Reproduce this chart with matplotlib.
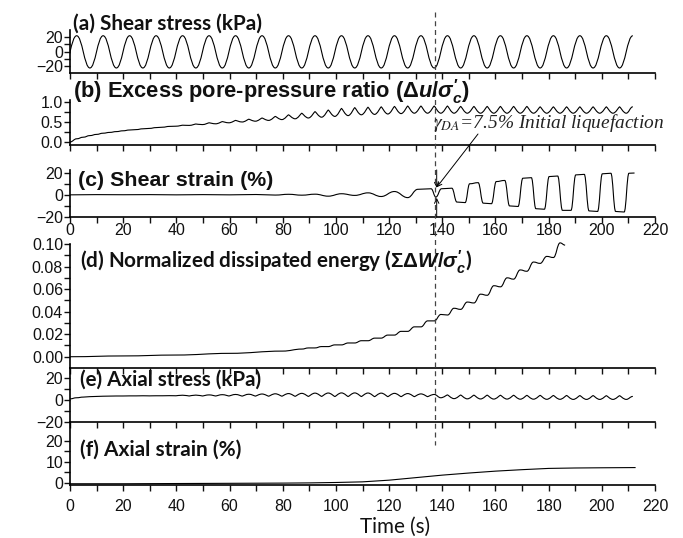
import numpy as np
import matplotlib
matplotlib.use("Agg")
import matplotlib.pyplot as plt
from matplotlib.path import Path
from matplotlib.patches import PathPatch
from matplotlib.lines import Line2D
from matplotlib.ticker import FuncFormatter
from matplotlib import transforms

plt.rcParams['font.family'] = ['Liberation Sans', 'DejaVu Sans']
plt.rcParams['mathtext.fontset'] = 'custom'
plt.rcParams['mathtext.rm'] = 'Liberation Sans:bold'
plt.rcParams['mathtext.it'] = 'Liberation Sans:bold:italic'
plt.rcParams['mathtext.bf'] = 'Liberation Sans:bold'

# ---- data ----
# loading: first shear stress peak and quarter of the 10 s cycle
first_peak = 2.5
quarter = 2.49
t_grid = first_peak + quarter * np.arange(85)   # peaks/troughs of the half-cycle signals

# (a) shear stress extrema (kPa), first value is the trough before t=0
shear_stress = [-23, 22, -23, 22, -23, 22, -23, 22, -23, 22, -23,
                22, -23, 22, -23, 22, -23, 22, -23, 22, -23,
                22, -23, 22, -23, 22, -23, 22, -23, 22, -23,
                22, -23, 22, -23, 22, -23, 22, -23, 22, -23,
                22, -23, 22]

# (b) excess pore-pressure ratio, at t=0 then on t_grid
pore_ratio = [0.00,
              0.08, 0.12, 0.16, 0.19, 0.22, 0.24, 0.26, 0.28, 0.30, 0.31,
              0.33, 0.34, 0.36, 0.37, 0.39, 0.395, 0.42, 0.415, 0.45, 0.435,
              0.48, 0.455, 0.51, 0.48, 0.54, 0.50, 0.57, 0.52, 0.60, 0.54,
              0.64, 0.56, 0.68, 0.58, 0.72, 0.60, 0.76, 0.62, 0.80, 0.64,
              0.84, 0.66, 0.86, 0.68, 0.87, 0.69, 0.88, 0.70, 0.89, 0.71,
              0.90, 0.72, 0.90, 0.72, 0.90, 0.72, 0.90, 0.72, 0.89, 0.72,
              0.89, 0.72, 0.89, 0.72, 0.89, 0.72, 0.89, 0.72, 0.89, 0.72,
              0.88, 0.72, 0.88, 0.72, 0.88, 0.72, 0.88, 0.72, 0.88, 0.72,
              0.88, 0.72, 0.88, 0.72, 0.88]

# (c) shear strain (%)
strain_t = [0, 10, 20, 30, 40, 50, 60, 70, 77.2, 82.2, 87.2, 92.2, 97.1,
            102.1, 107.1, 112.1, 117.0, 122.0, 127.0, 130.8, 135.8, 137.6,
            139.7, 143.6, 145.5, 148.6, 150.3, 153.5, 155.4, 158.5, 160.3,
            163.5, 165.3, 168.5, 170.3, 173.5, 175.2, 178.4, 180.2, 183.4,
            185.2, 188.4, 190.2, 193.4, 195.2, 198.4, 200.2, 203.4, 205.2,
            208.4, 210.2, 212.3]
strain_v = [0.0, 0.2, 0.1, 0.2, 0.0, 0.2, 0.0, 0.3, -0.2, 0.5, -0.3, 0.6, -1.2,
            1.0, -0.5, 1.8, -1.5, 3.0, -2.5, 5.0, 5.5, -2.0,
            5.5, 6.0, -6.5, -7.0, 10.0, 11.0, -7.5, -8.0, 12.0,
            13.0, -10.0, -10.5, 15.0, 15.5, -12.5, -13.0, 16.5, 17.0,
            -14.0, -14.0, 18.0, 18.5, -14.5, -15.0, 19.0, 19.5, -15.0,
            -15.5, 19.5, 19.7]

# (d) normalized dissipated energy
energy_t = [0, 20, 40, 60, 80, 87.2, 89.7, 92.1, 94.6, 97.1, 99.6, 102.1,
            104.6, 107.1, 109.6, 112.1, 114.6, 117.0, 119.5, 122.0, 124.5,
            127.0, 129.5, 132.0, 134.5, 137.0, 139.5, 142.0, 144.4, 146.9,
            149.4, 151.9, 154.4, 156.9, 159.4, 161.9, 164.4, 166.8, 169.3,
            171.8, 174.3, 176.8, 179.3, 181.8, 184.3, 186.2]
energy_v = [0.0, 0.0007, 0.0015, 0.003, 0.005, 0.0068, 0.0078, 0.0078, 0.0090,
            0.0090, 0.0105, 0.0105, 0.0122, 0.0122, 0.0142, 0.0142, 0.0165,
            0.0165, 0.0192, 0.0192, 0.0225, 0.0225, 0.0265, 0.0265, 0.0318,
            0.0318, 0.0375, 0.0370, 0.0430, 0.0420, 0.0485, 0.0477, 0.0555,
            0.0545, 0.0630, 0.0620, 0.0700, 0.0688, 0.0770, 0.0758, 0.0840,
            0.0828, 0.0890, 0.0880, 0.1010, 0.0990]

# (e) axial stress (kPa), at t=0 then on t_grid
axial_stress = [1.0,
                2.0, 2.6, 3.0, 3.2, 3.4, 3.5, 3.6, 3.6, 3.7, 3.7,
                3.8, 3.7, 3.8, 3.8, 3.9, 3.8, 4.3, 3.6, 4.4, 3.6,
                4.6, 3.6, 4.8, 3.6, 5.0, 3.5, 5.2, 3.5, 5.4, 3.4,
                5.6, 3.4, 5.8, 3.3, 6.0, 3.2, 6.2, 3.2, 6.3, 3.1,
                6.4, 3.1, 6.4, 3.1, 6.3, 3.0, 6.2, 3.0, 6.0, 3.0,
                5.8, 3.0, 5.5, 3.0, 5.0, 2.0, 4.6, 1.2, 4.5, 1.0,
                4.4, 0.9, 4.4, 0.8, 4.3, 0.8, 4.3, 0.7, 4.2, 0.7,
                4.2, 0.6, 4.1, 0.6, 4.1, 0.5, 4.0, 0.5, 4.0, 0.5,
                3.9, 0.5, 3.9, 0.5, 3.2]

# (f) axial strain (%)
axial_t = [0, 20, 40, 60, 80, 90, 100, 110, 120, 130, 140, 150, 160, 170,
           180, 190, 200, 212.5]
axial_v = [-0.4, -0.4, -0.3, -0.2, -0.1, 0.0, 0.2, 0.5, 1.3, 2.5, 3.7, 4.7,
           5.6, 6.3, 6.9, 7.1, 7.2, 7.3]

liquefaction_t = 137.2
liq_arrow_t = 137.9
liq_strain_top = 6.3
liq_strain_bot = -2.7

# ---- figure ----
W, H = 683, 538
fig = plt.figure(figsize=(W / 100, H / 100), dpi=100)


def rect(top, bottom):
    return [70 / W, 1 - bottom / H, 585 / W, (bottom - top) / H]


def smooth_line(ax, t, v, lw=0.8, clip=True, cusp_top_after=None):
    # cubic segments with flat tangents at every knot (peaks / troughs);
    # short handles give pointed peaks (after cusp_top_after) or pointed troughs (before)
    t = np.asarray(t, float)
    v = np.asarray(v, float)
    hf = np.full(len(t), 0.42)
    if cusp_top_after is not None:
        for i in range(1, len(t) - 1):
            is_max = v[i] > v[i - 1] and v[i] > v[i + 1]
            is_min = v[i] < v[i - 1] and v[i] < v[i + 1]
            if (is_max and t[i] >= cusp_top_after) or (is_min and t[i] < cusp_top_after):
                hf[i] = 0.1
    verts = [(t[0], v[0])]
    codes = [Path.MOVETO]
    for i in range(1, len(t)):
        dt = t[i] - t[i - 1]
        verts += [(t[i - 1] + hf[i - 1] * dt, v[i - 1]),
                  (t[i] - hf[i] * dt, v[i]), (t[i], v[i])]
        codes += [Path.CURVE4] * 3
    patch = PathPatch(Path(verts, codes), fill=False, lw=lw, ec='black',
                      joinstyle='round')
    ax.add_patch(patch)
    patch.set_clip_on(clip)


def minus_fmt(fmt):
    return FuncFormatter(lambda v, pos: (fmt % v).replace('-', '\u2212'))


def setup(ax, ylim, ticks, minor, fmt, bounds=None, labels=False, pad=1):
    ax.set_xlim(0, 220)
    ax.set_ylim(*ylim)
    ax.set_xticks(np.arange(0, 221, 20))
    ax.set_xticks(np.arange(10, 220, 20), minor=True)
    ax.set_yticks(ticks)
    ax.set_yticks(minor, minor=True)
    ax.yaxis.set_major_formatter(minus_fmt(fmt))
    ax.patch.set_alpha(0)
    for s in ['top', 'right']:
        ax.spines[s].set_visible(False)
    for s in ['left', 'bottom']:
        ax.spines[s].set_linewidth(1.2)
    if bounds is not None:
        ax.spines['left'].set_bounds(*bounds)
    ax.tick_params(which='both', direction='out', length=4, width=1.0,
                   labelsize=11.5, pad=1, colors='#111111')
    ax.tick_params(axis='x', labelbottom=labels, pad=pad)


ax_a = fig.add_axes(rect(30, 73))
ax_b = fig.add_axes(rect(73, 145))
ax_c = fig.add_axes(rect(145, 217))
ax_d = fig.add_axes(rect(244, 368))
ax_e = fig.add_axes(rect(368, 422))
ax_f = fig.add_axes(rect(422, 485))

setup(ax_a, (-30, 30), [-20, 0, 20], [-10, 10], '%d')
setup(ax_b, (-0.075, 1.725), [0, 0.5, 1.0], [0.25, 0.75], '%.1f',
      bounds=(-0.075, 1.05))
setup(ax_c, (-20, 45), [-20, 0, 20], [-10, 10], '%d', bounds=(-20, 22),
      labels=True, pad=0.5)
setup(ax_d, (-0.01, 0.10), np.arange(0, 0.101, 0.02),
      np.arange(0.01, 0.1, 0.02), '%.2f')
setup(ax_e, (-20, 29), [-20, 0, 20], [-10, 10], '%d')
setup(ax_f, (-1, 29), [0, 10, 20], [5, 15], '%d', labels=True, pad=6)

smooth_line(ax_a, np.concatenate([[first_peak - 2 * quarter], t_grid[::2]]),
            shear_stress)
smooth_line(ax_b, np.concatenate([[0], t_grid]), pore_ratio, cusp_top_after=0)
smooth_line(ax_c, strain_t, strain_v)
smooth_line(ax_d, energy_t, energy_v, clip=False)
smooth_line(ax_e, np.concatenate([[0], t_grid]), axial_stress,
            cusp_top_after=liquefaction_t)
ax_f.plot(axial_t, axial_v, color='black', lw=0.8)

# initial liquefaction marker
blend = transforms.blended_transform_factory(ax_f.transData, fig.transFigure)
fig.add_artist(Line2D([liquefaction_t, liquefaction_t], [1 - 12 / H, 1 - 445 / H],
                      transform=blend, color='#444444', lw=0.9,
                      linestyle=(0, (4, 3))))
arrow = dict(arrowstyle='->', lw=0.7, color='black', shrinkA=0, shrinkB=0,
             mutation_scale=8)
ax_c.annotate('', xy=(liq_arrow_t, liq_strain_top + 0.5),
              xytext=(478 / W, 1 - 134 / H), textcoords='figure fraction',
              arrowprops=arrow, annotation_clip=False)
ax_c.annotate('', xy=(liq_arrow_t, liq_strain_top), xytext=(liq_arrow_t, 22.5),
              arrowprops=arrow, annotation_clip=False)
ax_c.annotate('', xy=(liq_arrow_t, liq_strain_bot), xytext=(liq_arrow_t, -20),
              arrowprops=arrow, annotation_clip=False)

texts = []
note = fig.text(433 / W, 1 - 128 / H, r'$\gamma_{DA}$=7.5% Initial liquefaction',
                family='Liberation Serif', style='italic', size=13,
                math_fontfamily='stix', va='baseline', color='#222222')
texts.append((note, 230))

# panel titles
calibri_like = dict(family=['Lato', 'DejaVu Sans'], weight='bold', size=13.5,
                    va='center', color='#111111')
arial_like = dict(family='Liberation Sans', weight='bold', size=13.5,
                  va='center', color='#111111')
titles = [
    (73, 24, 189, '(a) Shear stress (kPa)', calibri_like),
    (73, 92, 397, r"(b) Excess pore-pressure ratio ($\Delta u/\sigma_c'$)", arial_like),
    (78, 180, 194, '(c) Shear strain (%)', arial_like),
    (80, 262, 392, r"(d) Normalized dissipated energy ($\Sigma\Delta W/\sigma_c'$)", calibri_like),
    (80, 380, 182, '(e) Axial stress (kPa)', calibri_like),
    (80, 450, 162, '(f) Axial strain (%)', calibri_like),
]
for x, y, width, label, style in titles:
    texts.append((fig.text(x / W, 1 - y / H, label, **style), width))
xlab = fig.text(395 / W, 1 - 527 / H, 'Time (s)', family=['Lato', 'DejaVu Sans'],
                size=13, ha='center', va='center', color='#111111')
texts.append((xlab, 70))

# fit each label to the width it takes in the original
fig.canvas.draw()
renderer = fig.canvas.get_renderer()
for txt, width in texts:
    w = txt.get_window_extent(renderer).width
    txt.set_fontsize(txt.get_fontsize() * width / w)

fig.savefig('out.png', dpi=100)
